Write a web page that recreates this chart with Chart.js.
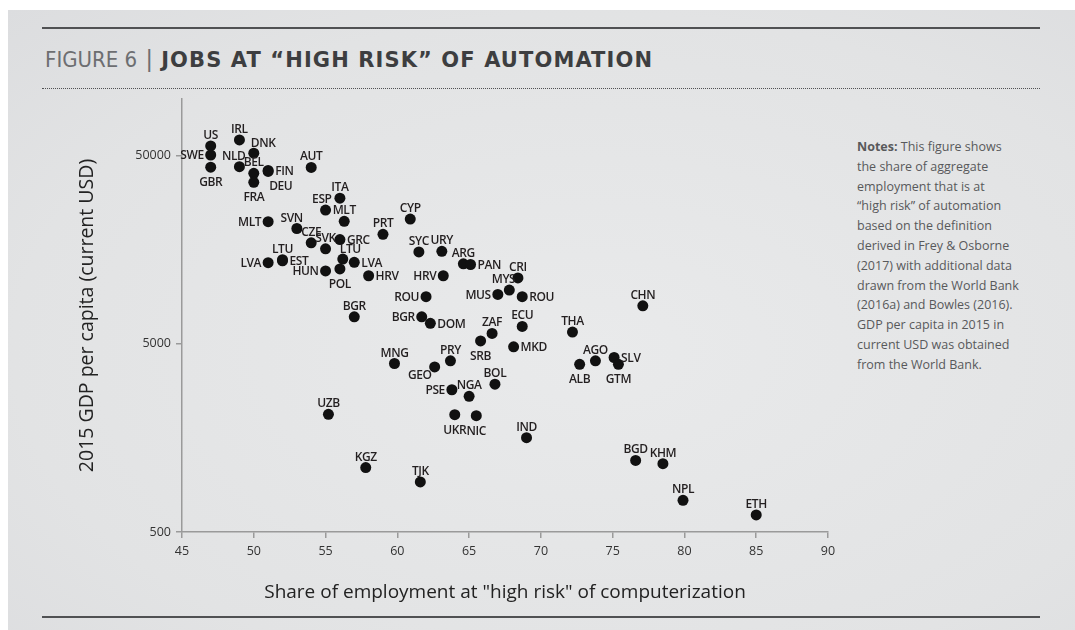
<!DOCTYPE html>
<html>
<head>
<meta charset="utf-8">
<title>Jobs at high risk of automation</title>
<script src="https://cdn.jsdelivr.net/npm/chart.js@4.4.1/dist/chart.umd.min.js"></script>
<style>
  html, body { margin: 0; padding: 0; background: #fff; }
  body { width: 1075px; height: 630px; position: relative; overflow: hidden; font-family: 'Open Sans', sans-serif; }
  .panel { position: absolute; left: 8px; top: 10px; right: 0; bottom: 0;
           background: radial-gradient(ellipse at 55% 55%, #e9eaeb 0%, #e2e3e4 70%, #dcdddf 100%); }
  .rule { position: absolute; left: 42px; width: 998px; }
  .rule.top { top: 27px; border-top: 2px solid #505153; }
  .rule.dots { top: 88px; border-top: 1px dotted #505153; }
  .rule.bottom { top: 616px; border-top: 2px solid #505153; }
  .title { position: absolute; left: 45px; top: 44px; white-space: nowrap; line-height: 30px; }
  .title .fig { font-family: 'Liberation Sans Narrow', 'DejaVu Sans Condensed', sans-serif; font-size: 22px; color: #6d6e71; }
  .title .bar { font-family: 'Liberation Sans Narrow', sans-serif; font-size: 23px; color: #6d6e71; margin: 0 9px 0 9px; }
  .title .main { font-family: 'DejaVu Sans', sans-serif; font-weight: bold; font-size: 21px; letter-spacing: 1.1px; color: #3d3e40; }
  .notes { position: absolute; left: 857px; top: 137px; width: 200px; font-size: 12.5px; line-height: 19.8px; color: #58595b; }
  .notes b { color: #58595b; }
  #chart { position: absolute; left: 0; top: 0; }
</style>
</head>
<body>
<div class="panel"></div>
<div class="rule top"></div>
<div class="title"><span class="fig">FIGURE 6</span><span class="bar">|</span><span class="main">JOBS AT “HIGH RISK” OF AUTOMATION</span></div>
<div class="rule dots"></div>
<div class="notes">
  <b>Notes:</b> This figure shows<br>
  the share of aggregate<br>
  employment that is at<br>
  “high risk” of automation<br>
  based on the definition<br>
  derived in Frey &amp; Osborne<br>
  (2017) with additional data<br>
  drawn from the World Bank<br>
  (2016a) and Bowles (2016).<br>
  GDP per capita in 2015 in<br>
  current USD was obtained<br>
  from the World Bank.
</div>
<div class="rule bottom"></div>
<canvas id="chart" width="1075" height="630"></canvas>

<script>
// Country codes, share of jobs at high risk (%) and 2015 GDP per capita (USD)
const countries = [
  'US', 'SWE', 'GBR', 'IRL', 'DNK', 'NLD', 'BEL', 'FIN', 'DEU', 'FRA',
  'AUT', 'ITA', 'ESP', 'MLT', 'MLT', 'SVN', 'CZE', 'SVK', 'GRC', 'PRT',
  'CYP', 'SYC', 'URY', 'LTU', 'EST', 'LVA', 'LTU', 'LVA', 'HUN', 'POL',
  'HRV', 'HRV', 'ROU', 'ARG', 'PAN', 'CRI', 'MYS', 'MUS', 'ROU', 'BGR',
  'BGR', 'DOM', 'ZAF', 'ECU', 'THA', 'SRB', 'MKD', 'CHN', 'MNG', 'PRY',
  'GEO', 'AGO', 'ALB', 'SLV', 'GTM', 'BOL', 'PSE', 'NGA', 'UKR', 'NIC',
  'IND', 'UZB', 'KGZ', 'TJK', 'BGD', 'KHM', 'NPL', 'ETH'
];
const riskShare = [
  47.0, 47.0, 47.0, 49.0, 50.0, 49.0, 50.0, 51.0, 51.0, 50.0,
  54.0, 56.0, 55.0, 56.3, 51.0, 53.0, 54.0, 55.0, 56.0, 59.0,
  60.9, 61.5, 63.1, 52.0, 52.0, 51.0, 56.2, 57.0, 55.0, 56.0,
  58.0, 63.2, 62.0, 64.6, 65.1, 68.4, 67.8, 67.0, 68.7, 57.0,
  61.7, 62.3, 66.6, 68.7, 72.2, 65.8, 68.1, 77.1, 59.8, 63.7,
  62.6, 73.8, 72.7, 75.1, 75.4, 66.8, 63.8, 65.0, 64.0, 65.5,
  69.0, 55.2, 57.8, 61.6, 76.6, 78.5, 79.9, 85.0
];
const gdpPerCapita = [
  56300, 50400, 43400, 60600, 51500, 43700, 40300, 41700, 41200, 36100,
  43300, 29700, 25700, 22400, 22300, 20500, 17200, 16000, 17900, 19100,
  23000, 15400, 15500, 14000, 13800, 13500, 14100, 13550, 12200, 12500,
  11500, 11500, 8900, 13300, 13200, 11200, 9650, 9150, 8900, 6960,
  6960, 6430, 5680, 6190, 5770, 5180, 4820, 7960, 3930, 4060,
  3770, 4060, 3890, 4230, 3890, 3050, 2850, 2630, 2100, 2075,
  1585, 2110, 1100, 923, 1200, 1153, 737, 616
];
// where each country label sits relative to its dot
const labelSide = [
  't', 'l', 'b', 't', 'tr', 'tl', 't', 'r', 'br', 'b',
  't', 't', 'tl', 't', 'l', 'tl', 't', 't', 'r', 't',
  't', 't', 't', 't', 'r', 'l', 'tr', 'r', 'l', 'b',
  'r', 'l', 'l', 't', 'r', 't', 'tl', 'l', 'r', 't',
  'l', 'r', 't', 't', 't', 'b', 'r', 't', 't', 't',
  'bl', 't', 'b', 'r', 'b', 't', 'l', 't', 'b', 'b',
  't', 't', 't', 't', 't', 't', 't', 't'
];
const xTicks = [45, 50, 55, 60, 65, 70, 75, 80, 85, 90];
const yTicks = [500, 5000, 50000];

const points = riskShare.map((s, i) => ({ x: s, y: gdpPerCapita[i] }));

// Draws the country code next to each dot
const countryLabels = {
  id: 'countryLabels',
  afterDatasetsDraw(chart) {
    const ctx = chart.ctx;
    const meta = chart.getDatasetMeta(0);
    ctx.save();
    ctx.font = "600 12px 'Open Sans', sans-serif";
    ctx.fillStyle = '#231f20';
    ctx.textBaseline = 'alphabetic';
    if ('letterSpacing' in ctx) ctx.letterSpacing = '-0.4px';
    meta.data.forEach((pt, i) => {
      let x = pt.x, y = pt.y;
      let align = 'center';
      switch (labelSide[i]) {
        case 't': y -= 7; break;
        case 'b': y += 19; break;
        case 'l': align = 'right'; x -= 7; y += 4.5; break;
        case 'r': align = 'left'; x += 7; y += 4.5; break;
        case 'tl': align = 'right'; x += 6; y -= 7; break;
        case 'tr': align = 'left'; x -= 3; y -= 6; break;
        case 'br': align = 'left'; x += 1; y += 19; break;
        case 'bl': align = 'right'; x -= 3; y += 12; break;
      }
      ctx.textAlign = align;
      ctx.fillText(countries[i], x, y);
    });
    ctx.restore();
  }
};

Chart.defaults.font.family = "'Open Sans', sans-serif";
Chart.defaults.color = '#333';

new Chart(document.getElementById('chart'), {
  type: 'scatter',
  data: {
    datasets: [{
      data: points,
      pointRadius: 5.5,
      pointHoverRadius: 5.5,
      backgroundColor: '#111',
      borderWidth: 0
    }]
  },
  options: {
    responsive: false,
    animation: false,
    devicePixelRatio: 1,
    layout: { padding: { left: 70, top: 99, right: 247, bottom: 15 } },
    plugins: { legend: { display: false }, tooltip: { enabled: false } },
    scales: {
      x: {
        type: 'linear',
        min: 45,
        max: 90,
        afterBuildTicks: (scale) => { scale.ticks = xTicks.map(v => ({ value: v })); },
        afterFit: (scale) => { scale.height = 630 - 15 - 532; },
        grid: { drawOnChartArea: false, drawTicks: true, tickLength: 6, color: '#9a9a9a', lineWidth: 1.5 },
        border: { color: '#9a9a9a', width: 1.5 },
        ticks: { padding: 6, font: { size: 12.5 }, color: '#333' },
        title: {
          display: true,
          text: 'Share of employment at "high risk" of computerization',
          font: { size: 19 },
          color: '#222',
          padding: { bottom: 11 }
        }
      },
      y: {
        type: 'logarithmic',
        min: 500,
        max: 100000,
        afterBuildTicks: (scale) => { scale.ticks = yTicks.map(v => ({ value: v })); },
        afterFit: (scale) => { scale.width = 112; },
        grid: { drawOnChartArea: false, drawTicks: true, tickLength: 6, color: '#9a9a9a', lineWidth: 1.5 },
        border: { color: '#9a9a9a', width: 1.5 },
        ticks: { padding: 5, font: { size: 12.5 }, color: '#333', callback: (v) => String(v) },
        title: {
          display: true,
          text: '2015 GDP per capita (current USD)',
          font: { size: 19.5 },
          color: '#222',
          padding: { top: 6 }
        }
      }
    }
  },
  plugins: [countryLabels]
});
</script>
</body>
</html>
